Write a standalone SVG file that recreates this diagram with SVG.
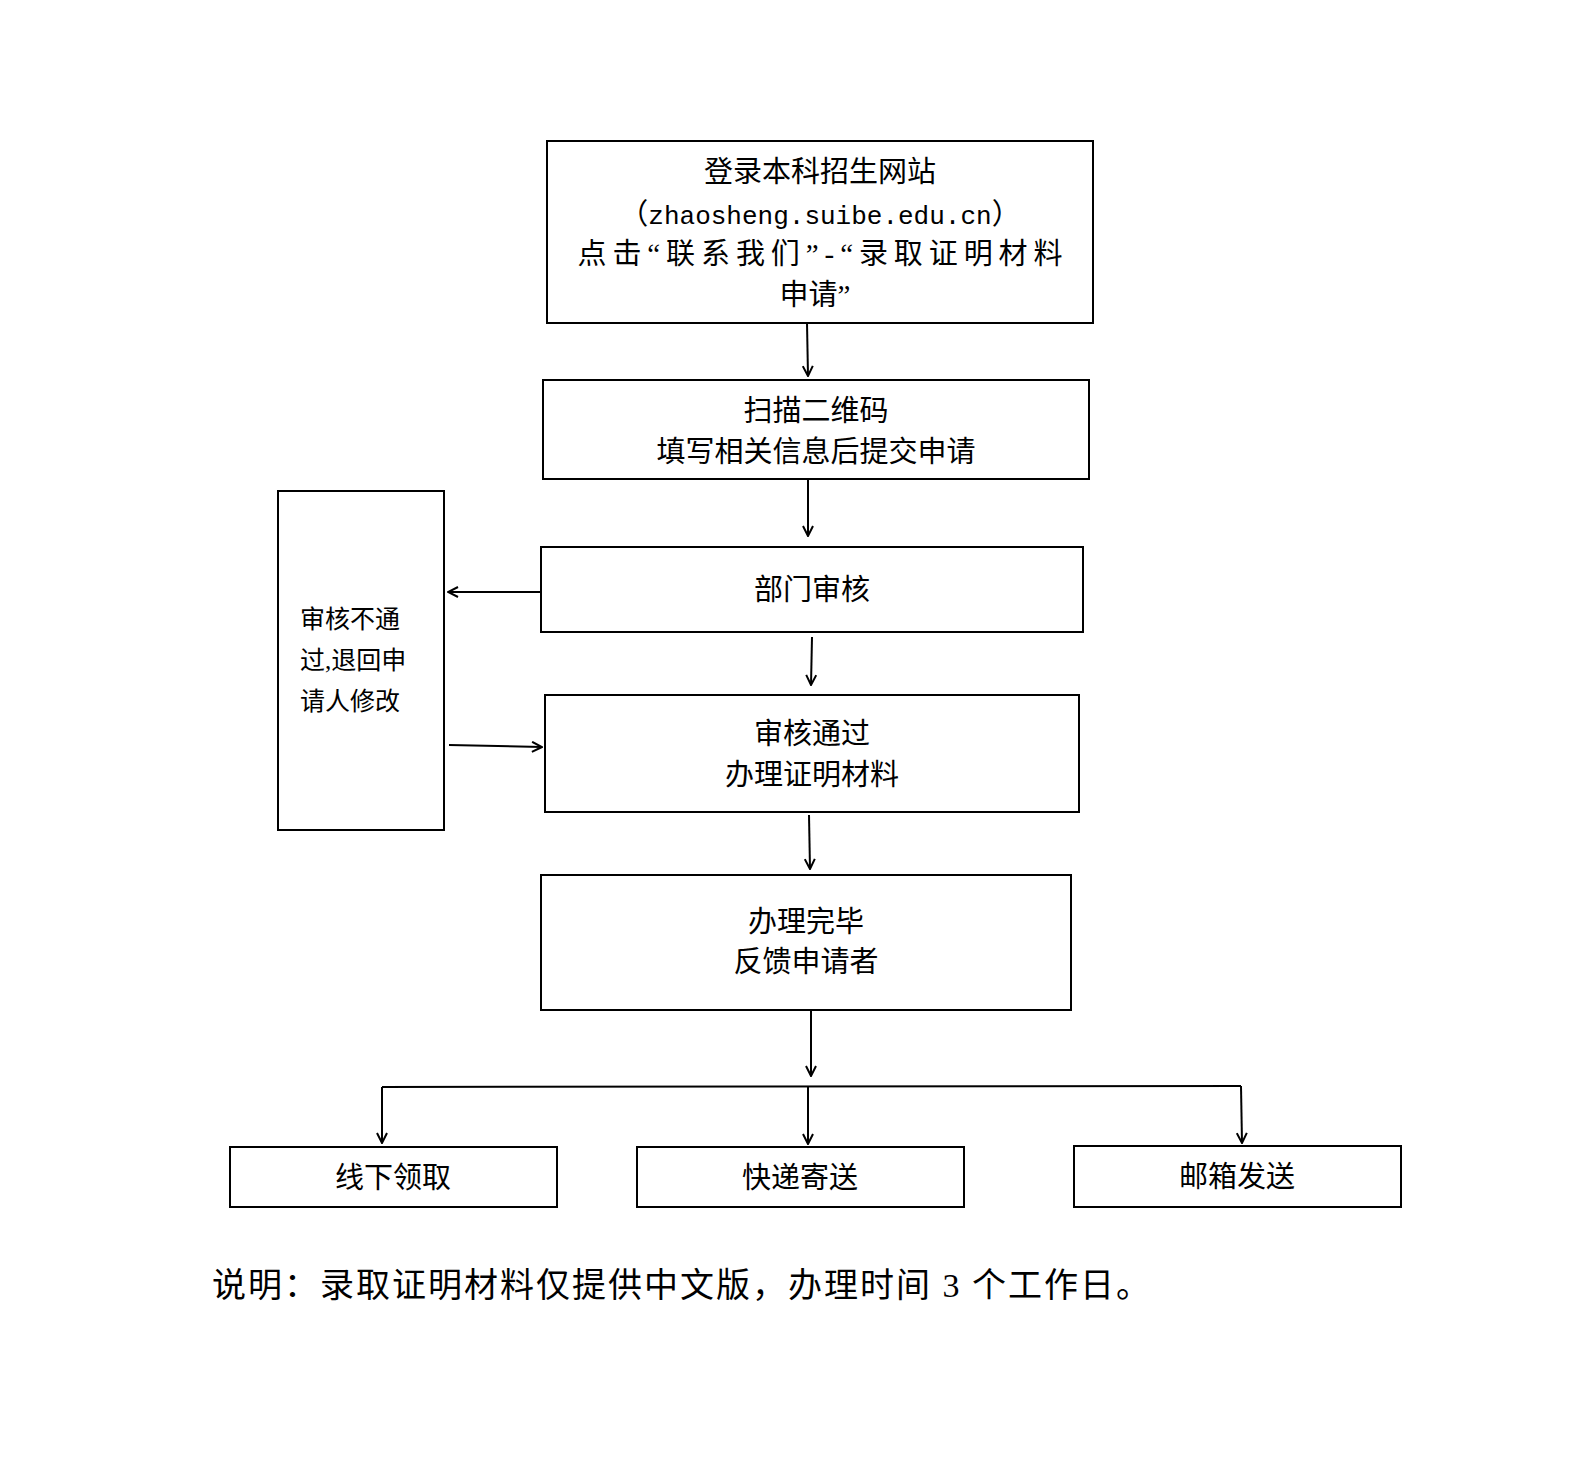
<svg xmlns="http://www.w3.org/2000/svg" width="1587" height="1459" viewBox="0 0 1587 1459">
<style>
.b{fill:#fff;stroke:#000;stroke-width:2}
.t{font-family:"Liberation Serif","Noto Sans CJK SC",serif;font-size:29px;fill:#000;text-anchor:middle}
.s{font-family:"Liberation Serif","Noto Sans CJK SC",serif;font-size:25px;fill:#000}
.c{stroke:#000;stroke-width:2;fill:none}
</style>
<defs><marker id="a" viewBox="0 0 12 12" refX="11" refY="6" markerWidth="12" markerHeight="12" markerUnits="userSpaceOnUse" orient="auto"><polyline points="1,1 11,6 1,11" fill="none" stroke="#000" stroke-width="2"/></marker></defs>
<rect width="1587" height="1459" fill="#fff"/>
<g id="n1"><rect class="b" x="547" y="141" width="546" height="182"/>
<text class="t" x="820" y="182">登录本科招生网站</text>
<text class="t" x="820" y="224">（<tspan style="font-family:'Liberation Mono',monospace;font-size:26px">zhaosheng.suibe.edu.cn</tspan>）</text>
<text class="t" x="820" y="264" textLength="485">点击“联系我们”-“录取证明材料</text>
<text class="t" x="815" y="305">申请”</text></g>
<g id="n2"><rect class="b" x="543" y="380" width="546" height="99"/>
<text class="t" x="816" y="421">扫描二维码</text>
<text class="t" x="816" y="462">填写相关信息后提交申请</text></g>
<g id="n3"><rect class="b" x="541" y="547" width="542" height="85"/>
<text class="t" x="812" y="600">部门审核</text></g>
<g id="n4"><rect class="b" x="278" y="491" width="166" height="339"/>
<text class="s" x="300" y="628">审核不通</text>
<text class="s" x="300" y="669">过,退回申</text>
<text class="s" x="300" y="710">请人修改</text></g>
<g id="n5"><rect class="b" x="545" y="695" width="534" height="117"/>
<text class="t" x="812" y="744">审核通过</text>
<text class="t" x="812" y="785">办理证明材料</text></g>
<g id="n6"><rect class="b" x="541" y="875" width="530" height="135"/>
<text class="t" x="806" y="932">办理完毕</text>
<text class="t" x="806" y="972">反馈申请者</text></g>
<g id="n7"><rect class="b" x="230" y="1147" width="327" height="60"/>
<text class="t" x="393" y="1188">线下领取</text></g>
<g id="n8"><rect class="b" x="637" y="1147" width="327" height="60"/>
<text class="t" x="800" y="1188">快递寄送</text></g>
<g id="n9"><rect class="b" x="1074" y="1146" width="327" height="61"/>
<text class="t" x="1237" y="1187">邮箱发送</text></g>
<g id="connectors">
<line class="c" x1="807" y1="323" x2="808" y2="376" marker-end="url(#a)"/>
<line class="c" x1="808" y1="480" x2="808" y2="536" marker-end="url(#a)"/>
<line class="c" x1="812" y1="637" x2="811" y2="685" marker-end="url(#a)"/>
<line class="c" x1="809" y1="815" x2="810" y2="869" marker-end="url(#a)"/>
<line class="c" x1="811" y1="1010" x2="811" y2="1076" marker-end="url(#a)"/>
<line class="c" x1="541" y1="592" x2="448" y2="592" marker-end="url(#a)"/>
<line class="c" x1="449" y1="745" x2="542" y2="747" marker-end="url(#a)"/>
<line class="c" x1="382" y1="1087" x2="1241" y2="1086"/>
<line class="c" x1="382" y1="1087" x2="382" y2="1143" marker-end="url(#a)"/>
<line class="c" x1="808" y1="1087" x2="808" y2="1144" marker-end="url(#a)"/>
<line class="c" x1="1241" y1="1086" x2="1242" y2="1143" marker-end="url(#a)"/>
</g>
<text x="212" y="1297" textLength="938" style="font-family:'Liberation Serif','Noto Sans CJK SC',serif;font-size:34px">说明：录取证明材料仅提供中文版，办理时间 3 个工作日。</text>
</svg>
